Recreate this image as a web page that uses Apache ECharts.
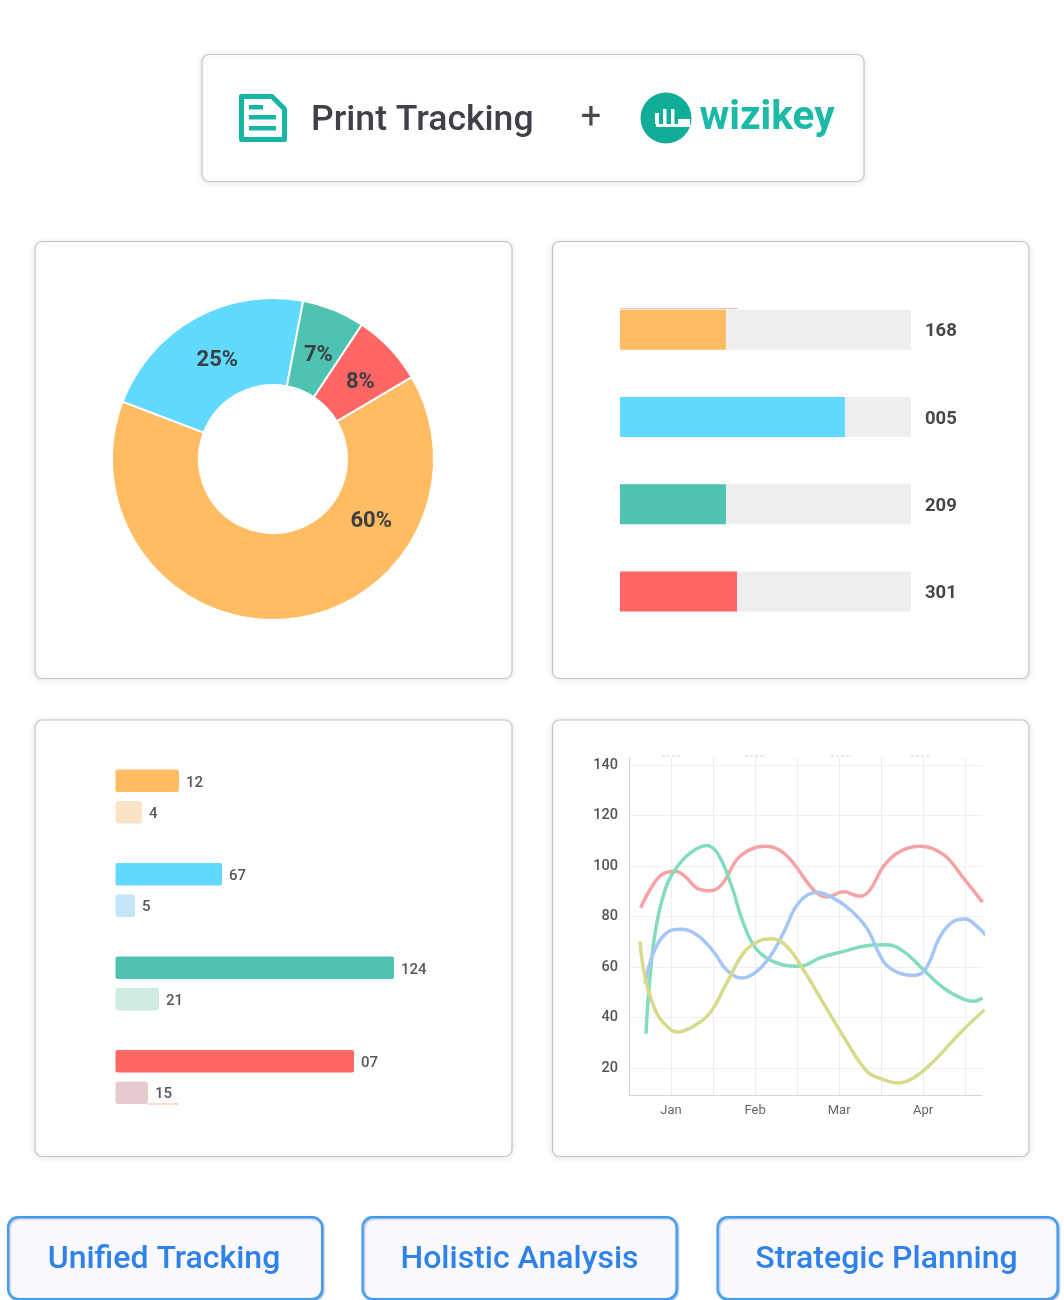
<!DOCTYPE html>
<html><head><meta charset="utf-8">
<style>html,body{margin:0;padding:0;background:#fff}#c{width:1064px;height:1300px}</style>
<script src="https://cdn.jsdelivr.net/npm/echarts@6/dist/echarts.min.js"></script>
</head><body><div id="c"></div>
<script>
// ---- data ----
const palette = ['#ffbc62', '#62d9ff', '#4fc3b2', '#ff6666'];
const paleColors = ['#fbe3c8', '#c2e5f8', '#cfece4', '#e6cace'];

const donutNames = ['Orange', 'Blue', 'Teal', 'Red'];
const donutShares = [64.3, 22.2, 6.3, 7.2];
const donutLabels = ['60%', '25%', '7%', '8%'];

const progressCats = ['A', 'B', 'C', 'D'];
const progressValues = [36.4, 77.3, 36.4, 40.2];
const progressLabels = ['168', '005', '209', '301'];
const progressTrack = [100, 100, 100, 100];

const pairCats = ['A', 'B', 'C', 'D'];
const pairMain = [63.5, 106.5, 278.5, 238.5];
const pairPale = [26.5, 19.5, 43.5, 32.5];
const pairMainLabels = ['12', '67', '124', '07'];
const pairPaleLabels = ['4', '5', '21', '15'];

const monthLabels = {1: 'Jan', 2: 'Feb', 3: 'Mar', 4: 'Apr'};
const yTicks = [20, 40, 60, 80, 100, 120, 140];
const lineRed = [[.639,83.4],[.75,90.6],[.889,96.6],[1.048,97.9],[1.167,95.9],[1.306,91.3],[1.464,90.2],[1.603,92.6],[1.782,102.5],[1.94,106.5],[2.119,107.8],[2.298,106.2],[2.456,101.2],[2.694,90.6],[2.853,87.7],[3.052,89.8],[3.25,88],[3.369,90.6],[3.528,99.9],[3.726,105.8],[3.964,107.8],[4.242,104.5],[4.48,95.2],[4.706,85.7]];
const lineGreen = [[.702,33.5],[.734,49.7],[.81,73.5],[.929,90.6],[1.048,98.5],[1.226,105.1],[1.425,108.1],[1.563,104.5],[1.722,91.9],[1.861,77.4],[2.02,66.9],[2.258,61.6],[2.536,60.3],[2.774,63.6],[3.052,66.2],[3.329,68.4],[3.567,68.8],[3.766,66.2],[4.004,58.9],[4.242,51.7],[4.48,47.3],[4.599,46.4],[4.706,47.7]];
const lineBlue = [[.69,53.4],[.79,65.5],[.948,73.5],[1.127,75],[1.306,72.8],[1.504,66.2],[1.663,58.7],[1.841,55.6],[2.02,58.3],[2.179,64.2],[2.337,73.5],[2.516,85.3],[2.734,89.6],[2.933,87.3],[3.131,82.7],[3.329,75.4],[3.528,62.2],[3.687,58],[3.885,56.7],[4.024,58.9],[4.202,72.1],[4.361,78.1],[4.5,79],[4.639,76.1],[4.758,72.1]];
const lineYellow = [[.631,70.2],[.69,56.3],[.829,41.8],[1.008,34.9],[1.087,34.3],[1.266,36.5],[1.464,41.8],[1.663,53.7],[1.861,65.5],[2.04,70.2],[2.198,71.2],[2.377,68.2],[2.575,58.9],[2.813,45.7],[3.052,32.5],[3.329,18.7],[3.528,15.4],[3.706,14.1],[3.885,16],[4.123,22.6],[4.44,33.9],[4.73,43.1]];

const headerLeft = 'Print Tracking';
const headerBrand = 'wizikey';
const pills = ['Unified Tracking', 'Holistic Analysis', 'Strategic Planning'];

// ---- page furniture ----
const TEAL = '#17b6a4';
function card(x, y, w, h) {
  return {type:'rect', z:-10, shape:{x, y, width:w, height:h, r:7},
    style:{fill:'#fff', stroke:'#c4c4c6', lineWidth:1.2, shadowBlur:7, shadowColor:'rgba(0,0,0,0.10)', shadowOffsetY:1}};
}
function pill(x, y, w, h, text, dx) {
  return [
    {type:'rect', z:-10, shape:{x, y, width:w, height:h, r:10},
     style:{fill:'#fbf8fe', stroke:'#3d9fec', lineWidth:2, shadowBlur:2, shadowColor:'rgba(40,90,190,0.6)', shadowOffsetX:1, shadowOffsetY:1}},
    {type:'text', z:5, style:{text, x:x+w/2+dx, y:y+h/2+1.5, align:'center', verticalAlign:'middle',
      font:'500 32px Roboto', fill:'#2f82ea'}}
  ];
}
function decoLine(x1, y1, x2, y2, color, w, dash) {
  return {type:'line', z:1, shape:{x1, y1, x2, y2}, style:{stroke:color, lineWidth:w, lineDash:dash}};
}
const logoBits = [[655,113,4,11],[663,109,3.5,15],[671,109,3.5,15],[678,119,12,5],[656,124,34,3]];

const graphicEls = [
  card(202, 54.5, 662, 127),
  card(35, 241.5, 477, 437), card(552.5, 241.5, 476.5, 437),
  card(35, 720, 477, 436.5), card(552.5, 720, 476.5, 436.5),
  ...pill(8, 1217, 314, 82, pills[0], -1),
  ...pill(362.5, 1217, 314, 82, pills[1], 0),
  ...pill(717.5, 1217, 340, 82, pills[2], -1),
  {type:'polygon', z:5, shape:{points:[[241.5,96.5],[272,96.5],[284.5,109],[284.5,139.5],[241.5,139.5]]},
    style:{fill:'none', stroke:TEAL, lineWidth:5, lineJoin:'round'}},
  {type:'rect', z:5, shape:{x:249,y:105,width:14,height:4.5}, style:{fill:TEAL}},
  {type:'rect', z:5, shape:{x:249,y:115,width:27,height:4.5}, style:{fill:TEAL}},
  {type:'rect', z:5, shape:{x:249,y:126,width:27,height:4.5}, style:{fill:TEAL}},
  {type:'text', z:5, style:{text:headerLeft, x:311, y:121.5, verticalAlign:'middle', font:'500 35.6px Roboto', fill:'#404146'}},
  {type:'text', z:5, style:{text:'+', x:591, y:119, align:'center', verticalAlign:'middle', font:'400 36px Roboto', fill:'#48494e'}},
  {type:'circle', z:5, shape:{cx:666, cy:118, r:25.5}, style:{fill:'#10ad98'}},
  ...logoBits.map(b => ({type:'rect', z:6, shape:{x:b[0],y:b[1],width:b[2],height:b[3]}, style:{fill:'#fff'}})),
  {type:'text', z:5, style:{text:headerBrand, x:699.5, y:119, verticalAlign:'middle', font:'700 40.5px Roboto', fill:'#1cb9a6'}},
  // faint artefacts visible in the reference
  decoLine(620.5, 308.5, 738, 308.5, '#f9b4b4', 1.2),
  decoLine(147, 1104, 178, 1104, '#f3c4b4', 1.2),
  decoLine(662, 756, 682, 756, '#d0d0d0', 1, [3,2]),
  decoLine(745, 756, 766, 756, '#d0d0d0', 1, [3,2]),
  decoLine(831, 756, 852, 756, '#d0d0d0', 1, [3,2]),
  decoLine(911, 756, 931, 756, '#d0d0d0', 1, [3,2])
];

const lineDefs = [
  [lineRed, '#f6a3a5'], [lineGreen, '#83dcbb'], [lineBlue, '#a6c6f8'], [lineYellow, '#d8da8b']
];
const donutOffsets = [[88,-58],[3,7],[0,8],[0,7]];

const option = {
  animation:false,
  backgroundColor:'#fff',
  graphic:{elements:graphicEls},
  grid:[
    {left:620, top:286, width:291, height:349},
    {left:115.5, top:749.75, width:300, height:374},
    {left:629, top:757.5, width:353, height:337.5}
  ],
  xAxis:[
    {gridIndex:0, type:'value', min:0, max:100, show:false},
    {gridIndex:1, type:'value', min:0, max:300, show:false},
    {gridIndex:2, type:'value', min:0.5, max:4.7, interval:0.5,
      axisLine:{show:true, lineStyle:{color:'#d5d6da', width:1.2}},
      axisTick:{show:false},
      axisLabel:{margin:9, fontFamily:'Roboto', fontSize:13, color:'#666', showMinLabel:false, showMaxLabel:false,
        formatter:v => monthLabels[v] || ''},
      splitLine:{show:true, showMinLine:false, showMaxLine:false, lineStyle:{color:'#ededf0', width:1}}}
  ],
  yAxis:[
    {gridIndex:0, type:'category', data:progressCats, inverse:true, show:false},
    {gridIndex:1, type:'category', data:pairCats, inverse:true, show:false},
    {gridIndex:2, type:'value', min:9.3, max:143,
      axisLine:{show:true, lineStyle:{color:'#d5d6da', width:1.2}},
      axisTick:{show:false, customValues:yTicks},
      axisLabel:{margin:11, fontFamily:'Roboto', fontSize:14.5, fontWeight:500, color:'#555', padding:[3,0,0,0], customValues:yTicks},
      splitLine:{show:true, lineStyle:{color:'#f0f0f2', width:1}}}
  ],
  series:[
    {type:'pie', center:[273,459], radius:[74,161], startAngle:30.6, clockwise:true, silent:true,
      itemStyle:{borderColor:'#fff', borderWidth:2},
      labelLine:{show:false},
      data:donutNames.map((n,i)=>({name:n, value:donutShares[i], itemStyle:{color:palette[i]},
        label:{show:true, position:'inside', formatter:donutLabels[i], fontFamily:'Roboto', fontWeight:700, fontSize:22, color:'#3c3f42',
          offset:donutOffsets[i]}}))},
    {type:'bar', xAxisIndex:0, yAxisIndex:0, barWidth:40, barGap:'-100%', silent:true,
      data:progressTrack, itemStyle:{color:'#eeeeee'},
      label:{show:true, position:'right', distance:14, offset:[0,2], fontFamily:'Roboto', fontWeight:700, fontSize:18.5, color:'#45474a',
        formatter:p=>progressLabels[p.dataIndex]}},
    {type:'bar', xAxisIndex:0, yAxisIndex:0, barWidth:40, barGap:'-100%', silent:true,
      data:progressValues.map((v,i)=>({value:v, itemStyle:{color:palette[i]}}))},
    {type:'bar', xAxisIndex:1, yAxisIndex:1, barWidth:22.5, barGap:'40%', silent:true,
      data:pairMain.map((v,i)=>({value:v, itemStyle:{color:palette[i], borderRadius:2}})),
      label:{show:true, position:'right', distance:7, offset:[0,2], fontFamily:'Roboto', fontWeight:500, fontSize:15, color:'#55575a',
        formatter:p=>pairMainLabels[p.dataIndex]}},
    {type:'bar', xAxisIndex:1, yAxisIndex:1, barWidth:22.5, barGap:'40%', silent:true,
      data:pairPale.map((v,i)=>({value:v, itemStyle:{color:paleColors[i], borderRadius:3}})),
      label:{show:true, position:'right', distance:7, offset:[0,1.5], fontFamily:'Roboto', fontWeight:500, fontSize:15, color:'#55575a',
        formatter:p=>pairPaleLabels[p.dataIndex]}},
    ...lineDefs.map(d=>({type:'line', xAxisIndex:2, yAxisIndex:2, data:d[0], smooth:0.4, showSymbol:false, clip:false, silent:true,
      lineStyle:{color:d[1], width:3.5}}))
  ]
};
const chart = echarts.init(document.getElementById('c'), null, {renderer:'canvas'});
chart.setOption(option);
</script></body></html>
